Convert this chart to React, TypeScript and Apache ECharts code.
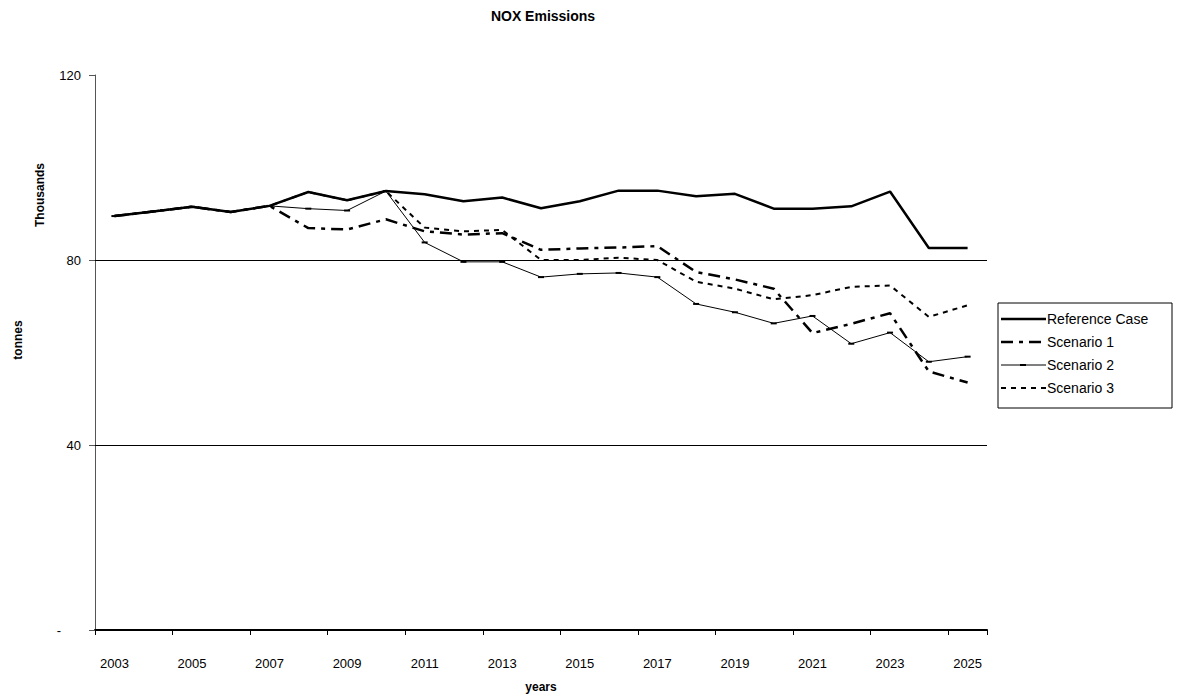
import React, { useEffect, useRef } from "react";
import * as echarts from "echarts";

// Years on the category axis
const years = [
  "2003", "2004", "2005", "2006", "2007", "2008", "2009", "2010", "2011", "2012", "2013", "2014",
  "2015", "2016", "2017", "2018", "2019", "2020", "2021", "2022", "2023", "2024", "2025",
];

// NOX emissions, thousands of tonnes
const referenceCase = [
  89.5, 90.5, 91.5, 90.4, 91.7, 94.7, 92.9, 94.9, 94.2, 92.7, 93.5, 91.2,
  92.7, 95.0, 95.0, 93.8, 94.3, 91.1, 91.1, 91.6, 94.8, 82.6, 82.6,
];
const scenario1 = [
  89.5, 90.5, 91.5, 90.4, 91.7, 86.9, 86.6, 88.8, 86.2, 85.5, 85.8, 82.2,
  82.5, 82.7, 83.0, 77.4, 75.8, 73.8, 64.2, 66.2, 68.5, 55.9, 53.5,
];
const scenario2 = [
  89.5, 90.5, 91.5, 90.4, 91.7, 91.1, 90.7, 94.9, 83.8, 79.6, 79.6, 76.3,
  77.0, 77.2, 76.3, 70.5, 68.7, 66.3, 67.9, 61.9, 64.3, 58.0, 59.1,
];
const scenario3 = [
  89.5, 90.5, 91.5, 90.4, 91.7, 94.7, 92.9, 94.9, 87.0, 86.2, 86.5, 80.0,
  80.0, 80.5, 80.0, 75.3, 73.8, 71.5, 72.4, 74.2, 74.5, 67.7, 70.2,
];

// Horizontal reference lines inside the plot
const gridLevels = [40, 80];

const seriesNames = ["Reference Case", "Scenario 1", "Scenario 2", "Scenario 3"];

const FONT = "'Liberation Sans', Arial, sans-serif";

// Stroke styles shared by the series and the legend keys
const strokes = [
  { width: 2.5, dash: null as number[] | null, marker: false },
  { width: 2.5, dash: [12, 6, 4, 6], marker: false },
  { width: 1, dash: null as number[] | null, marker: true },
  { width: 2, dash: [5, 5], marker: false },
];

function legendGraphics() {
  const left = 998;
  const top = 303;
  const width = 174;
  const rowH = 23;
  const children: any[] = [
    {
      type: "rect",
      shape: { x: left, y: top, width, height: rowH * seriesNames.length + 13 },
      style: { fill: "#fff", stroke: "#000", lineWidth: 1 },
    },
  ];
  seriesNames.forEach((name, i) => {
    const y = top + 16 + i * rowH;
    const s = strokes[i];
    children.push({
      type: "line",
      shape: { x1: left + 3, y1: y, x2: left + 48, y2: y },
      style: { stroke: "#000", lineWidth: s.width, lineDash: s.dash || undefined },
    });
    if (s.marker) {
      children.push({
        type: "rect",
        shape: { x: left + 22, y: y - 1, width: 6, height: 2 },
        style: { fill: "#000" },
      });
    }
    children.push({
      type: "text",
      x: left + 49,
      y,
      style: {
        text: name,
        font: `14px ${FONT}`,
        fill: "#000",
        textAlign: "left",
        textVerticalAlign: "middle",
      },
    });
  });
  return { type: "group", children };
}

export default function App() {
  const ref = useRef<HTMLDivElement>(null);

  useEffect(() => {
    document.body.style.margin = "0";
    if (!ref.current) return;
    const chart = echarts.init(ref.current, undefined, { renderer: "svg" });

    const lineSeries = [referenceCase, scenario1, scenario2, scenario3].map((data, i) => {
      const s = strokes[i];
      const base: any = {
        name: seriesNames[i],
        type: "line",
        data,
        symbol: s.marker ? "rect" : "none",
        symbolSize: [6, 2],
        showSymbol: s.marker,
        lineStyle: { color: "#000", width: s.width, type: s.dash || "solid" },
        itemStyle: { color: "#000" },
        z: 5 - i,
      };
      if (i === 0) {
        base.markLine = {
          silent: true,
          symbol: "none",
          label: { show: false },
          lineStyle: { color: "#000", width: 1, type: "solid" },
          data: gridLevels.map((v) => ({ yAxis: v })),
          z: 1,
        };
      }
      return base;
    });

    const option: echarts.EChartsOption = {
      animation: false,
      backgroundColor: "#ffffff",
      textStyle: { fontFamily: FONT, color: "#000" },
      grid: { left: 95, right: 196, top: 75, bottom: 63, containLabel: false },
      graphic: [
        {
          type: "text",
          x: 543,
          y: 16,
          style: {
            text: "NOX Emissions",
            font: `bold 14px ${FONT}`,
            fill: "#000",
            textAlign: "center",
            textVerticalAlign: "middle",
          },
        },
        {
          type: "text",
          x: 40,
          y: 195,
          rotation: Math.PI / 2,
          style: {
            text: "Thousands",
            font: `bold 12px ${FONT}`,
            fill: "#000",
            textAlign: "center",
            textVerticalAlign: "middle",
          },
        },
        {
          type: "text",
          x: 18,
          y: 340,
          rotation: Math.PI / 2,
          style: {
            text: "tonnes",
            font: `bold 12px ${FONT}`,
            fill: "#000",
            textAlign: "center",
            textVerticalAlign: "middle",
          },
        },
        legendGraphics(),
      ],
      xAxis: {
        type: "category",
        data: years,
        boundaryGap: true,
        name: "years",
        nameLocation: "middle",
        nameGap: 51,
        nameTextStyle: { fontFamily: FONT, fontSize: 12, fontWeight: "bold", color: "#000" },
        axisLine: { lineStyle: { color: "#000", width: 2 } },
        axisTick: { show: true, interval: 1, length: 5, lineStyle: { color: "#000", width: 1 } },
        axisLabel: { interval: 1, margin: 27, fontSize: 13, color: "#000", fontFamily: FONT },
        splitLine: { show: false },
      },
      yAxis: {
        type: "value",
        min: 0,
        max: 120,
        interval: 40,
        axisLine: { show: true, lineStyle: { color: "#555", width: 1 } },
        axisTick: { show: true, length: 6, lineStyle: { color: "#555", width: 1 } },
        axisLabel: {
          margin: 14,
          fontSize: 13,
          color: "#000",
          fontFamily: FONT,
          formatter: (v: number) => (v === 0 ? "{dash|-}" : String(v)),
          rich: { dash: { fontSize: 13, color: "#000", fontFamily: FONT, padding: [0, 20, 0, 0] } },
        },
        splitLine: { show: false },
      },
      series: lineSeries,
    };

    chart.setOption(option);
    return () => chart.dispose();
  }, []);

  return <div ref={ref} style={{ width: 1183, height: 698 }} />;
}
